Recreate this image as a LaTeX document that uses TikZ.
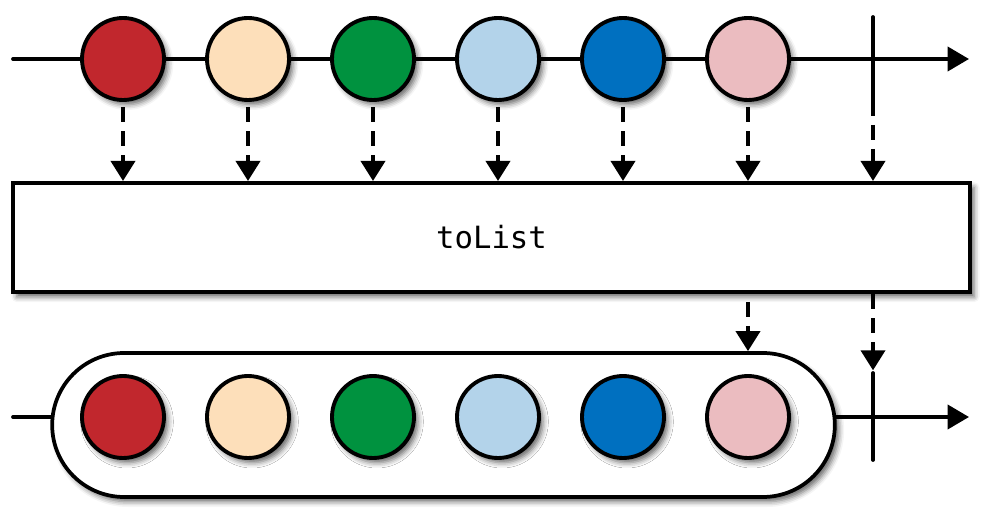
\documentclass[tikz,border=0pt]{standalone}
\usepackage{fontspec}
\newfontfamily\monofont{DejaVu Sans Mono}
\usetikzlibrary{arrows.meta,shadows.blur}
\definecolor{cRed}{HTML}{C1272D}
\definecolor{cPeach}{HTML}{FDDFBA}
\definecolor{cGreen}{HTML}{00923F}
\definecolor{cLBlue}{HTML}{B3D3EA}
\definecolor{cBlue}{HTML}{0070C0}
\definecolor{cPink}{HTML}{EBBCC0}
\begin{document}
\begin{tikzpicture}[x=0.75pt,y=-0.75pt,
  mainline/.style={line width=2.8pt, line cap=round},
  tip/.style={-{Triangle[length=16pt,width=18pt]}},
  dasharrow/.style={line width=2.8pt, dash pattern=on 11pt off 7pt, -{Triangle[length=15pt,width=18pt]}},
  myshadow/.style={blur shadow={shadow xshift=3pt, shadow yshift=-3.5pt, shadow blur radius=4pt, shadow opacity=60}},
  marble/.style={circle, draw, line width=2.9pt, minimum size=61.5pt, inner sep=0pt, myshadow},
  opbox/.style={draw, fill=white, line width=2.8pt, minimum width=718pt, minimum height=82pt, inner sep=0pt, myshadow, font=\monofont\fontsize{23pt}{27pt}\selectfont},
  capsule/.style={draw, fill=white, line width=2.8pt, minimum width=587pt, minimum height=108pt, rounded corners=54pt, inner sep=0pt, myshadow}
]
\useasboundingbox (0,0) rectangle (996,523);

% top line
\coordinate (tstart) at (13,59);
\coordinate (tend) at (969,59);
\draw[mainline, tip] (tstart) -- (tend);

% box
\node[opbox] (box) at (491.5,237.5) {toList};

% top marbles
\foreach \i/\x/\c in {1/123/cRed,2/248/cPeach,3/373/cGreen,4/498/cLBlue,5/623/cBlue,6/748/cPink}{
  \node[marble, fill=\c] (t\i) at (\x,59) {};
  \draw[dasharrow] ([yshift=-4pt]t\i.south) -- (t\i.south |- box.north);
}

% top completion tick
\coordinate (tk1) at (873,17);
\coordinate (tk2) at (873,101);
\draw[mainline] (tk1) -- (tk2);
\draw[dasharrow] (tk2) -- (tk2 |- box.north);

% bottom line and capsule
\coordinate (bstart) at (13,417);
\coordinate (bend) at (969,417);
\node[capsule] (cap) at (443.5,425) {};
\draw[mainline] (bstart) -- (bstart -| cap.west);
\draw[mainline, tip] (bstart -| cap.east) -- (bend);

\foreach \i/\x/\c in {1/123/cRed,2/248/cPeach,3/373/cGreen,4/498/cLBlue,5/623/cBlue,6/748/cPink}{
  \node[marble, fill=\c] (b\i) at (\x,417) {};
}

% bottom arrows
\coordinate (ba1) at (748,302);
\draw[dasharrow] (ba1) -- (ba1 |- cap.north);
\coordinate (bk1) at (873,373);
\coordinate (bk2) at (873,460);
\draw[dasharrow] (box.south -| bk1) -- ([yshift=2pt]bk1);
\draw[mainline] (bk1) -- (bk2);
\end{tikzpicture}
\end{document}
